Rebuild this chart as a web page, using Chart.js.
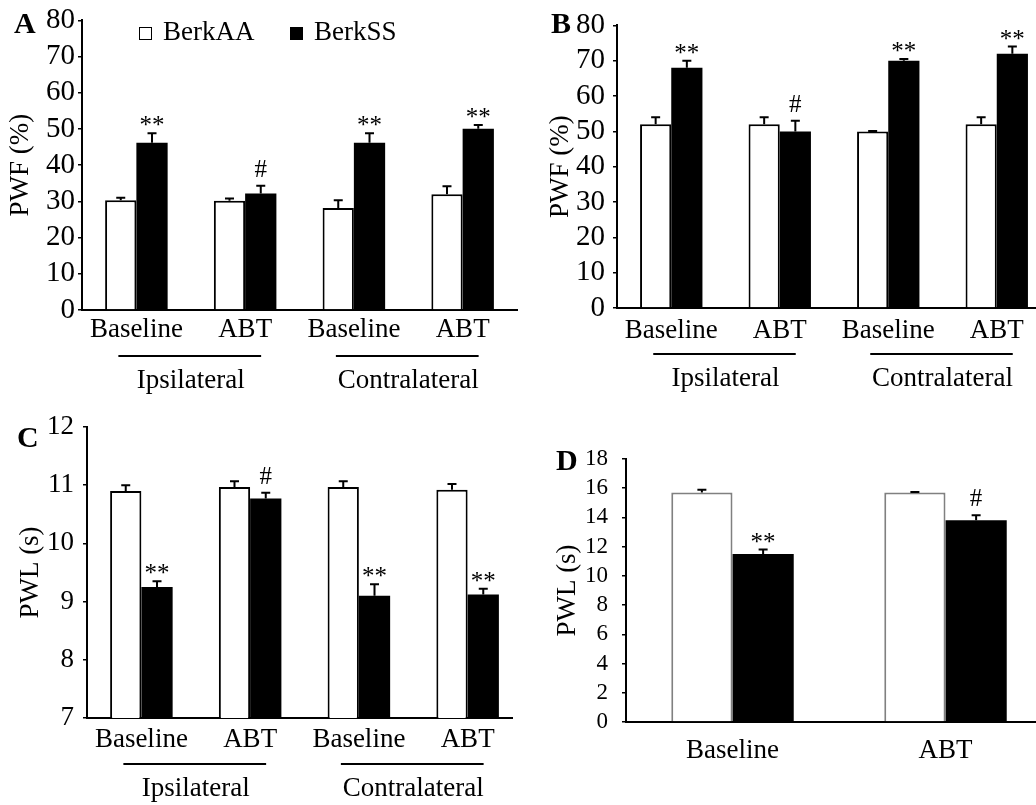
<!DOCTYPE html>
<html>
<head>
<meta charset="utf-8">
<script src="https://cdn.jsdelivr.net/npm/chart.js@4.4.1/dist/chart.umd.min.js"></script>
<style>
html, body { margin: 0; padding: 0; background: #fff; overflow: hidden; }
#fig { position: relative; width: 1036px; height: 805px; overflow: hidden; background: #fff; }
.panel { position: absolute; overflow: hidden; }
canvas { display: block; }
</style>
</head>
<body>
<div id="fig">
  <div class="panel" style="left:0;top:0;width:520px;height:400px"><canvas id="cA" width="520" height="400"></canvas></div>
  <div class="panel" style="left:520px;top:0;width:516px;height:400px"><canvas id="cB" width="540" height="400"></canvas></div>
  <div class="panel" style="left:0;top:400px;width:513px;height:405px"><canvas id="cC" width="530" height="405"></canvas></div>
  <div class="panel" style="left:520px;top:400px;width:516px;height:405px"><canvas id="cD" width="540" height="405"></canvas></div>
</div>
<script>
const FONT = "'Liberation Serif', 'Times New Roman', Times, serif"

// shared labels
const seriesNames = ['BerkAA', 'BerkSS']
const sideCats = ['Baseline', 'ABT', 'Baseline', 'ABT']
const sideGroups = ['Ipsilateral', 'Contralateral']
const sideSpans = [[0, 1], [2, 3]]
const dCats = ['Baseline', 'ABT']

// A - PWF (%)
const aAA = [30.3, 30.2, 28.2, 32]
const aAAerr = [0.7, 0.6, 2.1, 2.2]
const aSS = [46.2, 32.2, 46.2, 50.1]
const aSSerr = [2.6, 2.1, 2.6, 1.0]
const aSig = ['**', '#', '**', '**']

// B - PWF (%)
const bAA = [52, 52, 50, 52]
const bAAerr = [2, 2, 0.1, 2]
const bSS = [68, 50, 70, 72]
const bSSerr = [2, 3, 0.5, 2]
const bSig = ['**', '#', '**', '**']

// C - PWL (s)
const cAA = [10.9, 10.97, 10.97, 10.92]
const cAAerr = [0.1, 0.1, 0.1, 0.1]
const cSS = [9.25, 10.77, 9.1, 9.12]
const cSSerr = [0.1, 0.1, 0.2, 0.1]
const cSig = ['**', '#', '**', '**']

// D - PWL (s)
const dAA = [15.7, 15.7]
const dAAerr = [0.2, 0.05]
const dSS = [11.5, 13.8]
const dSSerr = [0.3, 0.35]
const dSig = ['**', '#']

// error bars, stars, group lines, panel letter, legend
const extras = {
    id: 'extras',
    afterDatasetsDraw(chart, args, opts) {
        const ctx = chart.ctx
        const y = chart.scales.y
        const x = chart.scales.x
        ctx.save()
        chart.data.datasets.forEach((ds, di) => {
            const meta = chart.getDatasetMeta(di)
            meta.data.forEach((bar, i) => {
                const top = y.getPixelForValue(ds.data[i] + ds.errors[i])
                ctx.strokeStyle = '#000'
                ctx.lineWidth = 2
                ctx.beginPath()
                ctx.moveTo(bar.x, bar.y)
                ctx.lineTo(bar.x, top)
                ctx.moveTo(bar.x - 4.5, top)
                ctx.lineTo(bar.x + 4.5, top)
                ctx.stroke()
                if (ds.sig && ds.sig[i]) {
                    ctx.fillStyle = '#000'
                    ctx.font = '25px ' + FONT
                    ctx.textAlign = 'center'
                    ctx.textBaseline = 'alphabetic'
                    const base = ds.sig[i] == '#' ? top - 9 : top
                    ctx.fillText(ds.sig[i], bar.x, base)
                }
            })
        })

        const bottom = chart.chartArea.bottom
        if (opts.groups) {
            opts.groups.forEach((name, k) => {
                const xa = x.getPixelForValue(opts.spans[k][0])
                const xb = x.getPixelForValue(opts.spans[k][1])
                ctx.strokeStyle = '#000'
                ctx.lineWidth = 2
                ctx.beginPath()
                ctx.moveTo(xa - 18, bottom + 46)
                ctx.lineTo(xb + 16, bottom + 46)
                ctx.stroke()
                ctx.fillStyle = '#000'
                ctx.font = '27px ' + FONT
                ctx.textAlign = 'center'
                ctx.textBaseline = 'middle'
                ctx.fillText(name, (xa + xb) / 2, bottom + 71)
            })
        }

        if (opts.letter) {
            ctx.fillStyle = '#000'
            ctx.font = 'bold 30px ' + FONT
            ctx.textAlign = 'left'
            ctx.textBaseline = 'alphabetic'
            ctx.fillText(opts.letter[0], opts.letter[1], opts.letter[2])
        }

        if (opts.legend) {
            let lx = opts.legend[0]
            const ly = opts.legend[1]
            ctx.font = '27px ' + FONT
            ctx.textAlign = 'left'
            ctx.textBaseline = 'alphabetic'
            chart.data.datasets.forEach((ds) => {
                ctx.fillStyle = ds.backgroundColor
                ctx.fillRect(lx, ly - 13, 13, 13)
                ctx.strokeStyle = '#000'
                ctx.lineWidth = 1
                ctx.strokeRect(lx + 0.5, ly - 12.5, 12, 12)
                ctx.fillStyle = '#000'
                ctx.fillText(ds.label, lx + 24, ly)
                lx += 151
            })
        }
        ctx.restore()
    }
}

function panel(id, o) {
    return new Chart(document.getElementById(id), {
        type: 'bar',
        data: {
            labels: o.labels,
            datasets: [
                { label: seriesNames[0], data: o.aa, errors: o.aaErr, backgroundColor: '#fff', borderColor: o.edge, borderWidth: 2 },
                { label: seriesNames[1], data: o.ss, errors: o.ssErr, sig: o.sig, backgroundColor: '#000', borderWidth: 0 }
            ]
        },
        options: {
            responsive: false,
            animation: false,
            events: [],
            layout: { padding: { left: 0, top: o.top, right: o.right, bottom: 0 } },
            datasets: { bar: { categoryPercentage: 0.575, barPercentage: 1 } },
            plugins: {
                legend: { display: false },
                tooltip: { enabled: false },
                extras: { groups: o.groups, spans: o.spans, letter: o.letter, legend: o.legend }
            },
            scales: {
                x: {
                    grid: { display: false, drawTicks: false },
                    border: { display: true, color: '#000', width: 2 },
                    ticks: { color: '#000', font: { family: FONT, size: 27 }, padding: o.xPad, maxRotation: 0, autoSkip: false },
                    afterFit(s) { s.height = o.xH }
                },
                y: {
                    min: o.min, max: o.max,
                    grid: { display: true, drawOnChartArea: false, drawTicks: true, tickLength: 4, color: '#000', lineWidth: 1.5 },
                    border: { display: true, color: '#000', width: 2 },
                    ticks: { stepSize: o.step, autoSkip: false, color: '#000', font: { family: FONT, size: o.yFont }, padding: o.yPad },
                    title: { display: true, text: o.title, color: '#000', font: { family: FONT, size: 27 }, padding: { top: o.tPad, bottom: 0 } },
                    afterFit(s) { s.width = o.yW }
                }
            }
        },
        plugins: [extras]
    })
}

panel('cA', {
    labels: sideCats, aa: aAA, aaErr: aAAerr, ss: aSS, ssErr: aSSerr, sig: aSig, edge: '#000',
    groups: sideGroups, spans: sideSpans, letter: ['A', 14, 33], legend: [139, 40],
    top: 20, right: 3, yW: 82, xH: 90, xPad: 4, yPad: 3, yFont: 29, tPad: 5,
    min: 0, max: 80, step: 10, title: 'PWF (%)'
})

panel('cB', {
    labels: sideCats, aa: bAA, aaErr: bAAerr, ss: bSS, ssErr: bSSerr, sig: bSig, edge: '#000',
    groups: sideGroups, spans: sideSpans, letter: ['B', 31, 33],
    top: 21, right: 9, yW: 97, xH: 92, xPad: 7, yPad: 8, yFont: 29, tPad: 25,
    min: 0, max: 80, step: 10, title: 'PWF (%)'
})

panel('cC', {
    labels: sideCats, aa: cAA, aaErr: cAAerr, ss: cSS, ssErr: cSSerr, sig: cSig, edge: '#000',
    groups: sideGroups, spans: sideSpans, letter: ['C', 17, 47],
    top: 27, right: 8, yW: 87, xH: 87, xPad: 6, yPad: 9, yFont: 27, tPad: 15,
    min: 7, max: 12, step: 1, title: 'PWL (s)'
})

panel('cD', {
    labels: dCats, aa: dAA, aaErr: dAAerr, ss: dSS, ssErr: dSSerr, sig: dSig, edge: '#808080',
    letter: ['D', 36, 70],
    top: 59, right: 8, yW: 106, xH: 83, xPad: 13, yPad: 14, yFont: 23, tPad: 32,
    min: 0, max: 18, step: 2, title: 'PWL (s)'
})
</script>
</body>
</html>
